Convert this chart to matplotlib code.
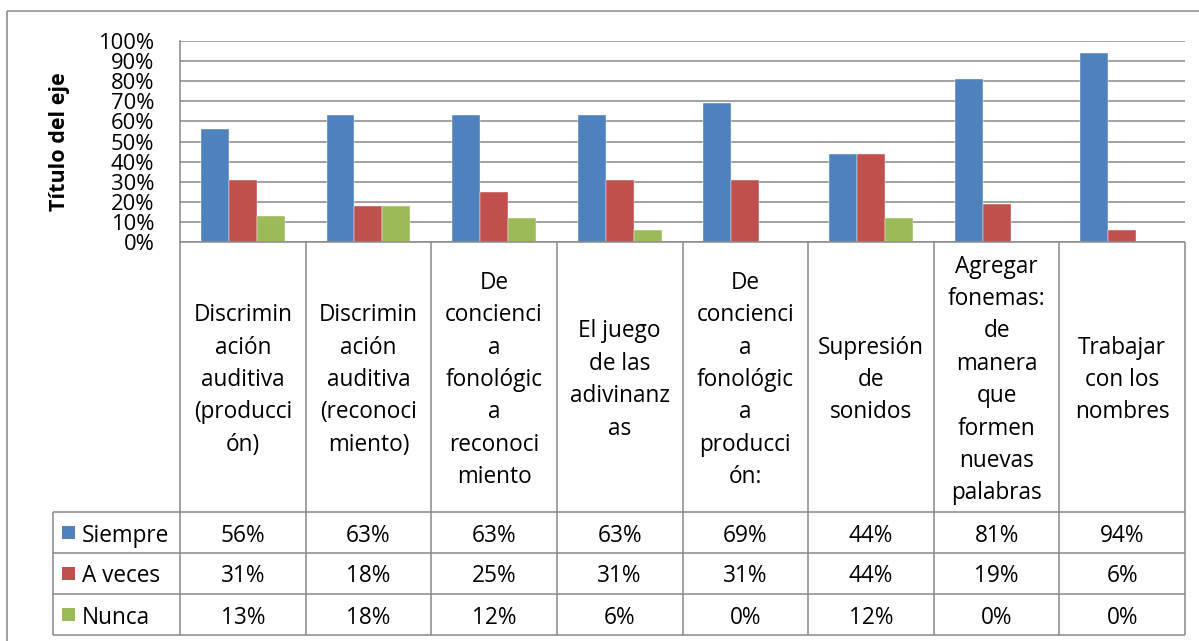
import matplotlib
matplotlib.use("Agg")
import matplotlib.pyplot as plt
from matplotlib.patches import Rectangle
import numpy as np

categories = [
    ["Discrimin", "ación", "auditiva", "(producci", "ón)"],
    ["Discrimin", "ación", "auditiva", "(reconoci", "miento)"],
    ["De", "concienci", "a", "fonológic", "a", "reconoci", "miento"],
    ["El juego", "de las", "adivinanz", "as"],
    ["De", "concienci", "a", "fonológic", "a", "producci", "ón:"],
    ["Supresión", "de", "sonidos"],
    ["Agregar", "fonemas:", "de", "manera", "que", "formen", "nuevas", "palabras"],
    ["Trabajar", "con los", "nombres"],
]
series_names = ["Siempre", "A veces", "Nunca"]
siempre = [0.56, 0.63, 0.63, 0.63, 0.69, 0.44, 0.81, 0.94]
a_veces = [0.31, 0.18, 0.25, 0.31, 0.31, 0.44, 0.19, 0.06]
nunca = [0.13, 0.18, 0.12, 0.06, 0.00, 0.12, 0.00, 0.00]
yticks = [0.0, 0.1, 0.2, 0.3, 0.4, 0.5, 0.6, 0.7, 0.8, 0.9, 1.0]
ytick_labels = ["0%", "10%", "20%", "30%", "40%", "50%", "60%", "70%", "80%", "90%", "100%"]
axis_title = "Título del eje"

colors = ["#4F81BD", "#C0504D", "#9BBB59"]
grid_c = "#898989"
FONT = "Open Sans"
FS = 16.3
FS_TICK = 15.8

W, H = 1199, 641
fig = plt.figure(figsize=(W / 100, H / 100), dpi=100)
fig.patch.set_facecolor("white")

# layout in pixels
L, R, T, B = 180, 1185, 41, 242
rows_y = [512, 553, 594, 635]
leg_x = 53

ax = fig.add_axes([L / W, 1 - B / H, (R - L) / W, (B - T) / H])
n = len(siempre)
x = np.arange(n)
bw = 1 / 4.5
for k, vals in enumerate([siempre, a_veces, nunca]):
    ax.bar(x + (k - 1) * bw, vals, width=bw, color=colors[k], zorder=3,
           edgecolor="white", linewidth=0.3)
ax.set_xlim(-0.5, n - 0.5)
ax.set_ylim(0, 1)
ax.set_yticks(yticks)
ax.set_yticklabels(ytick_labels, fontfamily=FONT, fontsize=FS_TICK)
ax.tick_params(axis="y", length=0, pad=18.5)
ax.set_xticks([])
ax.yaxis.grid(True, color=grid_c, linewidth=1.1, zorder=0)
for s in ["top", "right", "bottom"]:
    ax.spines[s].set_visible(False)
ax.spines["left"].set_color(grid_c)
ax.spines["left"].set_linewidth(1.1)
ax.set_facecolor("none")

# overlay in pixel coordinates
ov = fig.add_axes([0, 0, 1, 1])
ov.set_xlim(0, W)
ov.set_ylim(H, 0)
ov.axis("off")
ov.patch.set_visible(False)

lw = 1.1
# outer frame
ov.plot([7, W + 5], [11, 11], color="#868686", lw=lw, solid_capstyle="butt")
ov.plot([7, 7], [11, H + 5], color="#868686", lw=lw, solid_capstyle="butt")

colw = (R - L) / n
# vertical column lines
for i in range(n + 1):
    xx = L + i * colw
    ov.plot([xx, xx], [B, rows_y[-1]], color=grid_c, lw=lw, solid_capstyle="butt")
ov.plot([leg_x, leg_x], [rows_y[0], rows_y[-1]], color=grid_c, lw=lw, solid_capstyle="butt")
# horizontal lines
ov.plot([L, R], [B, B], color=grid_c, lw=lw, solid_capstyle="butt")
for yy in rows_y:
    ov.plot([leg_x, R], [yy, yy], color=grid_c, lw=lw, solid_capstyle="butt")

# category labels
pitch = 32.4
cy = (B + rows_y[0]) / 2
for i, lines in enumerate(categories):
    cx = L + (i + 0.5) * colw
    m = len(lines)
    for j, line in enumerate(lines):
        yy = cy + (j - (m - 1) / 2) * pitch
        ov.text(cx, yy, line, ha="center", va="center_baseline", fontfamily=FONT, fontsize=FS)

# data table rows
for k, (name, vals) in enumerate(zip(series_names, [siempre, a_veces, nunca])):
    ry = (rows_y[k] + rows_y[k + 1]) / 2
    ov.add_patch(Rectangle((62, ry - 6.5), 13, 13, facecolor=colors[k], edgecolor="none"))
    ov.text(82, ry, name, ha="left", va="center_baseline", fontfamily=FONT, fontsize=FS)
    for i, v in enumerate(vals):
        cx = L + (i + 0.5) * colw
        ov.text(cx, ry, f"{round(v * 100)}%", ha="center", va="center_baseline",
                fontfamily=FONT, fontsize=FS)

# axis title
ov.text(59, 142, axis_title, rotation=90, ha="center", va="center",
        fontfamily=FONT, fontsize=15.5, fontweight="bold")

fig.savefig("out.png", dpi=100)
